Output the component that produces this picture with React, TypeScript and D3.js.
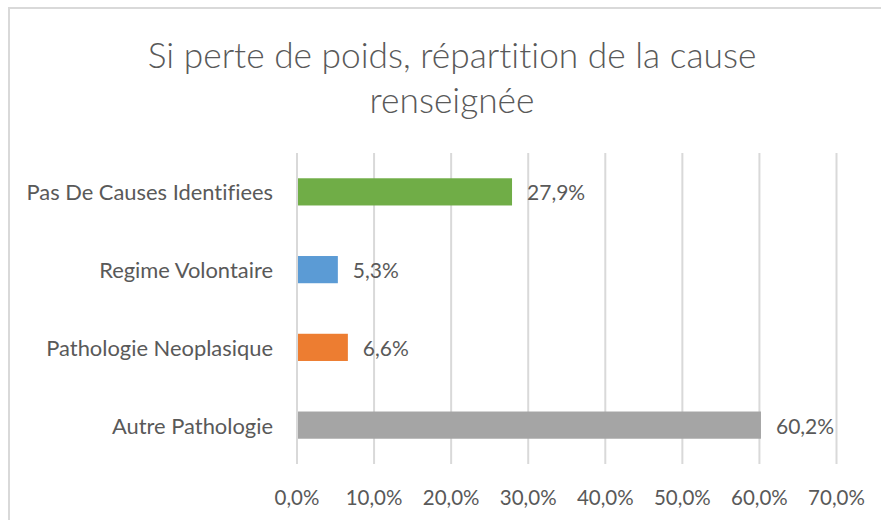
import React from "react";
import * as d3 from "d3";

const categories = ["Pas De Causes Identifiees", "Regime Volontaire", "Pathologie Neoplasique", "Autre Pathologie"];
const values = [27.9, 5.3, 6.6, 60.2];
const barColors = ["#70AD47", "#5B9BD5", "#ED7D31", "#A5A5A5"];
const xTicks = [0, 10, 20, 30, 40, 50, 60, 70];
const titleLines = ["Si perte de poids, répartition de la cause", "renseignée"];

const W = 881;
const H = 520;
const FONT = "Lato, 'Open Sans', sans-serif";
const TEXT = "#595959";
const GRID = "#D9D9D9";

const fmt = (v: number) => v.toFixed(1).replace(".", ",") + "%";

export default function App() {
  const x = d3.scaleLinear().domain([0, 70]).range([297, 836.5]);
  const y = d3.scaleBand<string>().domain(categories).range([153, 464]).paddingInner(0.65).paddingOuter(0.325);
  return (
    <svg width={W} height={H} style={{ position: "absolute", left: 0, top: 0, display: "block", fontVariantLigatures: "none" }}>
      <rect x={0} y={0} width={W} height={H} fill="#fff" />
      <rect x={9} y={8} width={W + 20} height={H + 20} fill="#fff" stroke={GRID} strokeWidth={2} />
      {titleLines.map((t, i) => (
        <text key={i} x={452} y={54 + i * 45} textAnchor="middle" dominantBaseline="central" fontFamily={FONT} fontWeight={300} fontSize={35.3} fill={TEXT}>
          {t}
        </text>
      ))}
      {xTicks.map((t) => (
        <g key={t}>
          <line x1={x(t)} x2={x(t)} y1={153} y2={464} stroke={GRID} strokeWidth={2} />
          <text x={x(t)} y={497} textAnchor="middle" dominantBaseline="central" fontFamily={FONT} fontSize={20.5} fill={TEXT}>
            {fmt(t)}
          </text>
        </g>
      ))}
      {categories.map((c, i) => {
        const yc = (y(c) as number) + y.bandwidth() / 2;
        return (
          <g key={c}>
            <rect x={x(0) + 1} y={y(c)} width={x(values[i]) - x(0) - 1} height={y.bandwidth()} fill={barColors[i]} />
            <text x={273} y={yc} textAnchor="end" dominantBaseline="central" fontFamily={FONT} fontSize={21.9} fill={TEXT}>
              {c}
            </text>
            <text x={x(values[i]) + 15} y={yc} textAnchor="start" dominantBaseline="central" fontFamily={FONT} fontSize={21} fill={TEXT}>
              {fmt(values[i])}
            </text>
          </g>
        );
      })}
    </svg>
  );
}
